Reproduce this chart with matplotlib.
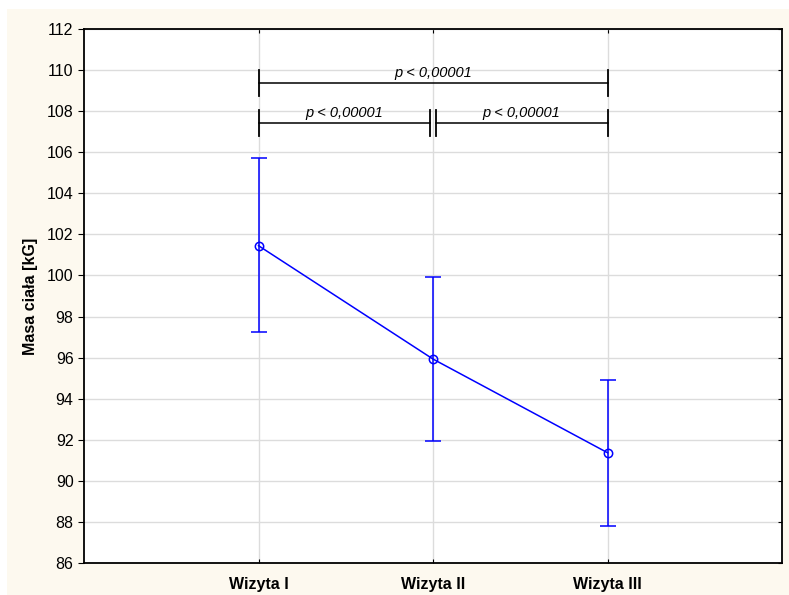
import matplotlib.pyplot as plt
from matplotlib.patches import Rectangle

plt.rcParams['font.family'] = ['Liberation Sans', 'DejaVu Sans']

# dane
wizyty = ['Wizyta I', 'Wizyta II', 'Wizyta III']
srednia = [101.45, 95.93, 91.37]
gora = [105.70, 99.93, 94.91]
dol = [97.23, 91.96, 87.82]
p_tekst = 'p < 0,00001'

fig = plt.figure(figsize=(7.89, 5.95), dpi=100)
fig.patch.set_facecolor('white')
# kremowe tlo
tlo = Rectangle((7 / 789, 0), 1, 1 - 9 / 595, transform=fig.transFigure,
                facecolor='#fdf9ef', edgecolor='none', zorder=-10)
fig.add_artist(tlo)

ax = fig.add_axes([84 / 789, 1 - 563 / 595, (782 - 84) / 789, (563 - 29) / 595])
ax.set_facecolor('white')

x = [1, 2, 3]
err_dol = [s - d for s, d in zip(srednia, dol)]
err_gora = [g - s for g, s in zip(gora, srednia)]
ax.errorbar(x, srednia, yerr=[err_dol, err_gora], color='#0000ff', lw=1.1,
            marker='o', ms=6, mfc='none', mec='#0000ff', mew=1.1,
            capsize=6, capthick=1.4, zorder=3)

ax.set_xlim(0, 4)
ax.set_ylim(86, 112)
ax.set_yticks(range(86, 113, 2))
ax.set_xticks(x)
ax.set_xticklabels(wizyty, fontweight='bold', fontsize=11.5)
ax.tick_params(axis='y', labelsize=11.5, direction='out', length=4)
ax.tick_params(axis='x', direction='in', length=3, top=True, pad=10)
ax.grid(True, color='#dcdcdc', lw=1)
ax.set_axisbelow(True)
for s in ax.spines.values():
    s.set_linewidth(1.3)
ax.set_ylabel('Masa ciała [kG]', fontweight='bold', fontsize=11.5, labelpad=6)

# male kreski po prawej, do srodka
ax2 = ax.twinx()
ax2.set_ylim(ax.get_ylim())
ax2.set_yticks(range(86, 113, 2))
ax2.tick_params(axis='y', direction='in', length=3, labelright=False)
for s in ax2.spines.values():
    s.set_visible(False)

# paski istotnosci
def pasek(x1, x2, y, h=0.65):
    ax.plot([x1, x2], [y, y], color='black', lw=1.1, zorder=4)
    ax.plot([x1, x1], [y - h, y + h], color='black', lw=1.3, zorder=4)
    ax.plot([x2, x2], [y - h, y + h], color='black', lw=1.3, zorder=4)
    ax.text((x1 + x2) / 2, y + 0.15, p_tekst, ha='center', va='bottom',
            fontsize=10.5, style='italic', zorder=5)

pasek(1, 3, 109.37)
pasek(1, 1.983, 107.42)
pasek(2.017, 3, 107.42)

fig.savefig('out.png', dpi=100)
